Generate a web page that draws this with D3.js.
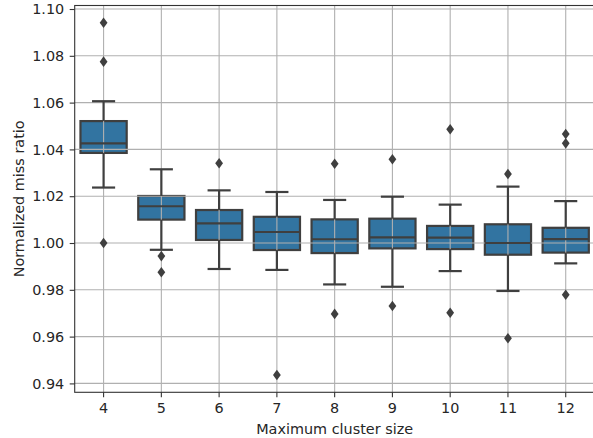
<!DOCTYPE html>
<html>
<head>
<meta charset="utf-8">
<script src="https://cdn.jsdelivr.net/npm/d3@7"></script>
<style>
  body { margin: 0; background: #fff; }
  text { font-family: "DejaVu Sans", sans-serif; fill: #262626; }
</style>
</head>
<body>
<div id="viz"></div>
<script>
// box statistics, one entry per cluster size
var categories = ["4", "5", "6", "7", "8", "9", "10", "11", "12"];
var whiskerLow = [1.0237, 0.9971, 0.9889, 0.9885, 0.9823, 0.9813, 0.9880, 0.9795, 0.9913];
var q1 = [1.0385, 1.0100, 1.0013, 0.9970, 0.9957, 0.9977, 0.9974, 0.9950, 0.9959];
var median = [1.0426, 1.0157, 1.0084, 1.0047, 1.0016, 1.0024, 1.0023, 1.0000, 1.0017];
var q3 = [1.0521, 1.0201, 1.0141, 1.0112, 1.0101, 1.0104, 1.0073, 1.0080, 1.0065];
var whiskerHigh = [1.0606, 1.0315, 1.0225, 1.0218, 1.0184, 1.0198, 1.0164, 1.0241, 1.0179];
var outliers = [
  [1.0941, 1.0775, 1.0000],
  [0.9944, 0.9875],
  [1.0341],
  [0.9436],
  [1.0339, 0.9697],
  [1.0358, 0.9731],
  [1.0486, 0.9702],
  [1.0295, 0.9593],
  [1.0466, 1.0426, 0.9779]
];
var yTicks = [0.94, 0.96, 0.98, 1.00, 1.02, 1.04, 1.06, 1.08, 1.10];

var w = 593, h = 438;
var margin = { left: 74.7, right: -1.6, top: 5.5, bottom: 45.7 };
var fontSize = 14.4;
var lineColor = "#3f3f3f";
var boxColor = "#3274a1";
var gridColor = "#b0b0b0";

var svg = d3.select("div#viz").append("svg")
  .attr("width", w)
  .attr("height", h);

var x = d3.scaleBand()
  .domain(categories)
  .range([margin.left, w - margin.right])
  .padding(0);

var y = d3.scaleLinear()
  .domain([0.9362, 1.1015])
  .range([h - margin.bottom, margin.top]);

var data = categories.map(function(c, i) {
  return { cat: c, lo: whiskerLow[i], q1: q1[i], med: median[i], q3: q3[i], hi: whiskerHigh[i], out: outliers[i] };
});

var bw = x.bandwidth();
var boxW = bw * 0.8;
var capW = boxW * 0.5;
var cx = function(d) { return x(d.cat) + bw / 2; };

// boxes (patches sit under the grid, like matplotlib)
svg.append("g").selectAll("rect")
  .data(data)
  .enter()
  .append("rect")
  .attr("x", function(d) { return cx(d) - boxW / 2; })
  .attr("y", function(d) { return y(d.q3); })
  .attr("width", boxW)
  .attr("height", function(d) { return y(d.q1) - y(d.q3); })
  .attr("fill", boxColor)
  .attr("stroke", lineColor)
  .attr("stroke-width", 2.2);

// grid
var grid = svg.append("g");
grid.selectAll("line.hg")
  .data(yTicks)
  .enter()
  .append("line")
  .attr("class", "hg")
  .attr("x1", margin.left)
  .attr("x2", w - margin.right)
  .attr("y1", function(d) { return y(d); })
  .attr("y2", function(d) { return y(d); })
  .attr("stroke", gridColor)
  .attr("stroke-width", 1.1);
grid.selectAll("line.vg")
  .data(categories)
  .enter()
  .append("line")
  .attr("class", "vg")
  .attr("x1", function(d) { return x(d) + bw / 2; })
  .attr("x2", function(d) { return x(d) + bw / 2; })
  .attr("y1", margin.top)
  .attr("y2", h - margin.bottom)
  .attr("stroke", gridColor)
  .attr("stroke-width", 1.1);

// whiskers, caps, medians
var lines = svg.append("g")
  .attr("stroke", lineColor)
  .attr("stroke-width", 2.2);

data.forEach(function(d) {
  var c = cx(d);
  lines.append("line").attr("x1", c).attr("x2", c).attr("y1", y(d.q3)).attr("y2", y(d.hi));
  lines.append("line").attr("x1", c).attr("x2", c).attr("y1", y(d.q1)).attr("y2", y(d.lo));
  lines.append("line").attr("x1", c - capW / 2).attr("x2", c + capW / 2).attr("y1", y(d.hi)).attr("y2", y(d.hi));
  lines.append("line").attr("x1", c - capW / 2).attr("x2", c + capW / 2).attr("y1", y(d.lo)).attr("y2", y(d.lo));
  lines.append("line").attr("x1", c - boxW / 2).attr("x2", c + boxW / 2).attr("y1", y(d.med)).attr("y2", y(d.med));
});

// outliers as thin diamonds
var diamond = "M0,-5.3L3.9,0L0,5.3L-3.9,0Z";
var flat = [];
data.forEach(function(d) {
  d.out.forEach(function(v) { flat.push({ cat: d.cat, v: v }); });
});
svg.append("g").selectAll("path")
  .data(flat)
  .enter()
  .append("path")
  .attr("d", diamond)
  .attr("transform", function(d) { return "translate(" + cx(d) + "," + y(d.v) + ")"; })
  .attr("fill", lineColor);

// frame
svg.append("rect")
  .attr("x", margin.left)
  .attr("y", margin.top)
  .attr("width", w - margin.right - margin.left)
  .attr("height", h - margin.bottom - margin.top)
  .attr("fill", "none")
  .attr("stroke", "#333")
  .attr("stroke-width", 1.1);

// axes
var styleAxis = function(g) {
  g.select(".domain").remove();
  g.selectAll("line").attr("stroke", "#333").attr("stroke-width", 1.1);
  g.selectAll("text").attr("font-size", fontSize).attr("fill", "#262626")
    .style("font-family", "DejaVu Sans, sans-serif");
};

var xAxis = d3.axisBottom(x).tickSize(5).tickPadding(5.5);
svg.append("g")
  .attr("transform", "translate(0," + (h - margin.bottom) + ")")
  .call(xAxis)
  .call(styleAxis);

var yAxis = d3.axisLeft(y).tickValues(yTicks).tickFormat(d3.format(".2f")).tickSize(5).tickPadding(5.5);
svg.append("g")
  .attr("transform", "translate(" + margin.left + ",0)")
  .call(yAxis)
  .call(styleAxis);

// axis labels
svg.append("text")
  .attr("x", (margin.left + w - margin.right) / 2)
  .attr("y", 434)
  .attr("text-anchor", "middle")
  .attr("font-size", fontSize)
  .text("Maximum cluster size");

svg.append("text")
  .attr("transform", "translate(23.5," + ((margin.top + h - margin.bottom) / 2) + ")rotate(-90)")
  .attr("text-anchor", "middle")
  .attr("font-size", fontSize)
  .text("Normalized miss ratio");
</script>
</body>
</html>
